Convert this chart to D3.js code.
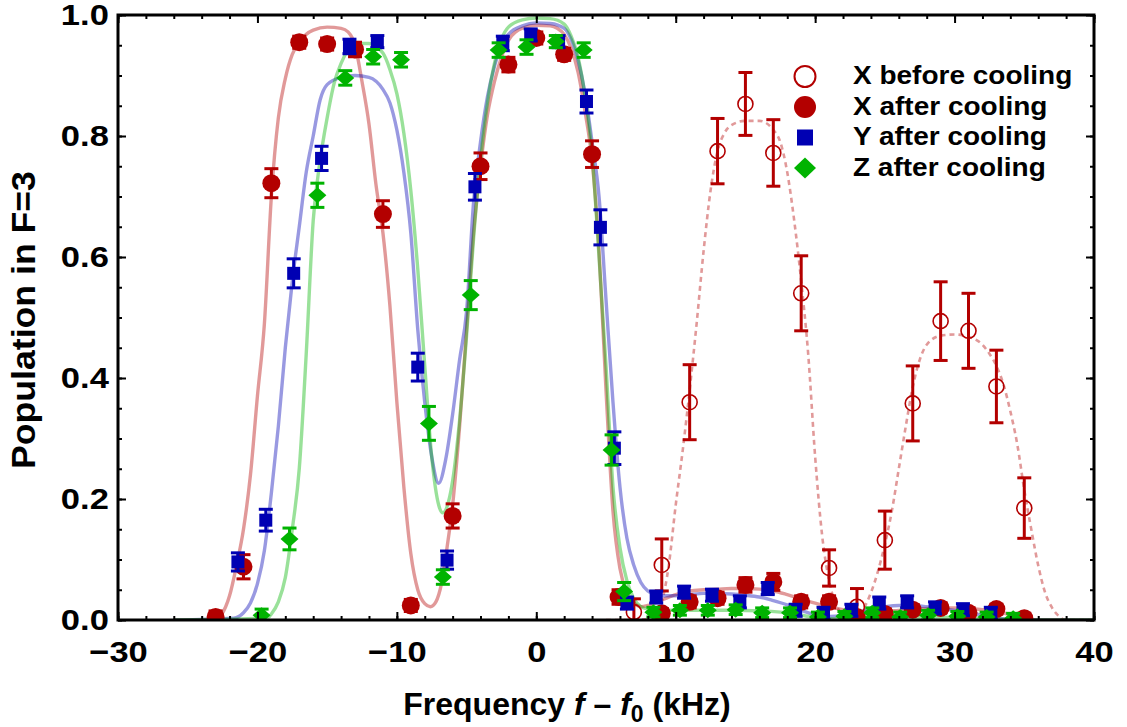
<!DOCTYPE html>
<html lang="en">
<head>
<meta charset="UTF-8">
<script src="https://cdn.jsdelivr.net/npm/d3@7"></script>
<title>Population in F=3</title>
<style>
  body { margin: 0; background: #fff; }
  text { font-family: "Liberation Sans", Arial, sans-serif; font-weight: bold; }
</style>
</head>
<body>
<svg id="chart" width="1127" height="727"></svg>
<script>
// ---- measured points ----
var beforeX   = [7, 9, 11, 13, 15, 17, 19, 21, 23, 25, 27, 29, 31, 33, 35];
var beforeY   = [0.013, 0.091, 0.36, 0.775, 0.853, 0.772, 0.54, 0.086, 0.022, 0.132, 0.358, 0.494, 0.478, 0.386, 0.185];
var beforeErr = [0.022, 0.043, 0.062, 0.054, 0.052, 0.055, 0.062, 0.03, 0.03, 0.048, 0.062, 0.065, 0.062, 0.06, 0.05];

var xAfterX   = [-23, -21, -19, -17, -15, -13, -11, -9, -6, -4, -2, 0, 2, 4, 5.9, 9, 11, 13, 15, 17, 19, 21, 23, 25, 27, 29, 31, 33, 35];
var xAfterY   = [0.005, 0.088, 0.722, 0.955, 0.952, 0.943, 0.671, 0.024, 0.172, 0.75, 0.918, 0.962, 0.935, 0.77, 0.038, 0.011, 0.03, 0.036, 0.058, 0.063, 0.03, 0.03, 0.005, 0.01, 0.017, 0.02, 0.012, 0.018, 0.003];
var xAfterErr = [0.01, 0.02, 0.024, 0.01, 0.01, 0.012, 0.022, 0.01, 0.02, 0.022, 0.012, 0.01, 0.01, 0.022, 0.012, 0.008, 0.01, 0.01, 0.012, 0.014, 0.01, 0.01, 0.008, 0.008, 0.008, 0.008, 0.008, 0.008, 0.008];

var yAfterX   = [-21.4, -19.4, -17.4, -15.4, -13.4, -11.4, -8.5, -6.4, -4.4, -2.4, -0.4, 1.6, 3.6, 4.6, 5.6, 6.5, 8.6, 10.6, 12.6, 14.6, 16.6, 18.6, 20.6, 22.6, 24.6, 26.6, 28.6, 30.6, 32.6];
var yAfterY   = [0.096, 0.165, 0.573, 0.763, 0.948, 0.956, 0.418, 0.099, 0.716, 0.953, 0.967, 0.956, 0.857, 0.649, 0.284, 0.028, 0.038, 0.046, 0.041, 0.03, 0.052, 0.016, 0.011, 0.016, 0.028, 0.03, 0.02, 0.017, 0.011];
var yAfterErr = [0.015, 0.018, 0.024, 0.02, 0.012, 0.01, 0.023, 0.015, 0.022, 0.012, 0.01, 0.01, 0.019, 0.029, 0.027, 0.01, 0.01, 0.01, 0.01, 0.01, 0.01, 0.01, 0.01, 0.01, 0.01, 0.01, 0.01, 0.01, 0.01];

var zAfterX   = [-19.7, -17.7, -15.7, -13.7, -11.7, -9.7, -7.7, -6.7, -4.7, -2.7, -0.7, 1.4, 3.4, 5.4, 6.3, 8.4, 10.3, 12.3, 14.3, 16.2, 18.2, 20.2, 22.1, 24.1, 26.1, 28.1, 30.2, 32.3, 34.2];
var zAfterY   = [0.008, 0.134, 0.702, 0.896, 0.931, 0.926, 0.325, 0.071, 0.537, 0.942, 0.947, 0.956, 0.942, 0.281, 0.047, 0.013, 0.016, 0.016, 0.017, 0.012, 0.012, 0.005, 0.006, 0.012, 0.005, 0.008, 0.006, 0.005, 0.003];
var zAfterErr = [0.01, 0.018, 0.02, 0.012, 0.012, 0.012, 0.028, 0.012, 0.024, 0.012, 0.012, 0.01, 0.012, 0.025, 0.015, 0.008, 0.008, 0.008, 0.008, 0.008, 0.008, 0.008, 0.008, 0.008, 0.008, 0.008, 0.008, 0.008, 0.008];

// ---- fitted curves ----
var fitBeforeX = [5, 7, 8, 8.5, 9, 9.5, 10, 10.5, 11, 11.5, 12, 12.5, 13, 13.5, 14, 15, 16, 17, 17.5, 18, 18.5, 19, 19.5, 20, 20.5, 21, 21.5, 22, 22.5, 23, 23.5, 24, 24.5, 25, 25.5, 26, 26.5, 27, 27.5, 28, 29, 30, 31, 32, 32.5, 33, 33.5, 34, 34.5, 35, 35.5, 36, 36.5, 37, 37.5, 38, 40];
var fitBeforeY = [0, 0, 0.002, 0.01, 0.03, 0.09, 0.19, 0.28, 0.38, 0.49, 0.61, 0.71, 0.775, 0.805, 0.818, 0.825, 0.825, 0.81, 0.79, 0.74, 0.66, 0.56, 0.44, 0.27, 0.14, 0.065, 0.025, 0.008, 0.002, 0.005, 0.02, 0.045, 0.08, 0.125, 0.18, 0.25, 0.32, 0.385, 0.43, 0.455, 0.47, 0.472, 0.468, 0.455, 0.44, 0.42, 0.39, 0.345, 0.29, 0.215, 0.15, 0.09, 0.045, 0.02, 0.006, 0, 0];

var fitXX = [-26, -23, -22.6, -22, -21.5, -21, -20.5, -20, -19.5, -19, -18.5, -18, -17.5, -17, -16.5, -16, -15, -14, -13.5, -13, -12.5, -12, -11.5, -11, -10.5, -10, -9.5, -9, -8.5, -8, -7.6, -7.2, -6.8, -6.4, -6, -5.5, -5, -4.5, -4, -3.5, -3, -2.5, -2, -1, 0, 1, 1.5, 2, 2.5, 3, 3.5, 4, 4.5, 5, 5.5, 6, 6.5, 7, 7.5, 8, 9, 10, 11, 12, 13, 14, 15, 16, 17, 18, 19, 20, 21, 22, 23, 24, 25, 26, 27, 28, 29, 30, 31, 32, 33, 34, 35, 36, 40];
var fitXY = [0, 0, 0.008, 0.04, 0.09, 0.15, 0.24, 0.37, 0.49, 0.70, 0.83, 0.895, 0.935, 0.955, 0.968, 0.975, 0.98, 0.978, 0.972, 0.95, 0.89, 0.82, 0.72, 0.64, 0.52, 0.36, 0.22, 0.11, 0.05, 0.027, 0.022, 0.03, 0.06, 0.12, 0.19, 0.32, 0.48, 0.64, 0.75, 0.835, 0.89, 0.93, 0.958, 0.978, 0.983, 0.982, 0.978, 0.968, 0.945, 0.905, 0.84, 0.76, 0.61, 0.38, 0.18, 0.085, 0.045, 0.028, 0.022, 0.024, 0.033, 0.042, 0.048, 0.05, 0.051, 0.052, 0.052, 0.051, 0.048, 0.042, 0.035, 0.028, 0.022, 0.017, 0.014, 0.013, 0.014, 0.016, 0.018, 0.019, 0.02, 0.02, 0.019, 0.017, 0.014, 0.009, 0.004, 0, 0];

var fitYX = [-26, -21.7, -21, -20.5, -20, -19.5, -19, -18.5, -18, -17.5, -17, -16.5, -16, -15.5, -15, -14, -13, -12, -11, -10.5, -10, -9.5, -9, -8.5, -8, -7.5, -7, -6.5, -6, -5.5, -5, -4.5, -4, -3.5, -3, -2.5, -2, -1, 0, 1, 2, 2.5, 3, 3.5, 4, 4.5, 5, 5.5, 6, 6.5, 7, 7.5, 8, 8.5, 9, 10, 11, 12, 13, 14, 15, 16, 17, 18, 19, 20, 21, 22, 23, 24, 25, 26, 27, 28, 29, 30, 31, 32, 33, 34, 35, 40];
var fitYY = [0, 0.003, 0.012, 0.028, 0.06, 0.115, 0.21, 0.32, 0.45, 0.56, 0.65, 0.74, 0.80, 0.86, 0.885, 0.897, 0.9, 0.897, 0.877, 0.855, 0.81, 0.74, 0.64, 0.48, 0.36, 0.27, 0.226, 0.265, 0.34, 0.43, 0.51, 0.69, 0.79, 0.865, 0.915, 0.95, 0.968, 0.982, 0.987, 0.986, 0.978, 0.96, 0.925, 0.87, 0.79, 0.70, 0.53, 0.36, 0.22, 0.135, 0.09, 0.062, 0.048, 0.042, 0.04, 0.04, 0.042, 0.044, 0.044, 0.043, 0.041, 0.038, 0.032, 0.025, 0.016, 0.009, 0.006, 0.008, 0.013, 0.018, 0.022, 0.024, 0.024, 0.022, 0.019, 0.016, 0.012, 0.008, 0.004, 0.001, 0, 0];

var fitZX = [-26, -19.3, -19, -18.5, -18, -17.5, -17, -16.5, -16, -15.5, -15, -14.5, -14, -13.3, -12.5, -12, -11, -10.5, -10, -9.5, -9, -8.5, -8, -7.5, -7, -6.7, -6.3, -6, -5.5, -5, -4.5, -4, -3.5, -3, -2.5, -2, -1, 0, 1, 2, 2.5, 3, 3.5, 4, 4.5, 5, 5.5, 6, 6.5, 7, 7.5, 8, 9, 10, 12, 14, 16, 18, 19, 20, 21, 24, 28, 32, 35, 40];
var fitZY = [0, 0.003, 0.01, 0.03, 0.07, 0.15, 0.25, 0.44, 0.66, 0.76, 0.83, 0.887, 0.92, 0.947, 0.953, 0.953, 0.937, 0.91, 0.87, 0.805, 0.71, 0.58, 0.42, 0.27, 0.19, 0.177, 0.195, 0.23, 0.33, 0.47, 0.63, 0.76, 0.855, 0.92, 0.96, 0.98, 0.992, 0.995, 0.994, 0.985, 0.965, 0.93, 0.865, 0.77, 0.60, 0.42, 0.22, 0.12, 0.065, 0.035, 0.022, 0.018, 0.016, 0.016, 0.016, 0.016, 0.015, 0.012, 0.008, 0.004, 0.002, 0.004, 0.005, 0.003, 0, 0];

var xTicks = [-30, -20, -10, 0, 10, 20, 30, 40];
var yTicks = [0, 0.2, 0.4, 0.6, 0.8, 1.0];
var legendLabels = ["X before cooling", "X after cooling", "Y after cooling", "Z after cooling"];

// ---- layout ----
var red = "rgb(179,0,0)", blue = "rgb(0,0,179)", green = "rgb(0,179,0)";
var pLeft = 118, pRight = 1094, pTop = 15, pBottom = 620;

var x = d3.scaleLinear().domain([-30, 40]).range([pLeft, pRight]);
var y = d3.scaleLinear().domain([0, 1]).range([pBottom, pTop]);

var svg = d3.select("#chart");

svg.append("defs").append("clipPath").attr("id", "clip")
  .append("rect").attr("x", pLeft).attr("y", pTop)
  .attr("width", pRight - pLeft).attr("height", pBottom - pTop);

function zip(xs, ys, es) {
  return xs.map(function (v, i) { return { x: v, y: ys[i], e: es ? es[i] : 0 }; });
}

var line = d3.line()
  .x(function (d) { return x(d.x); })
  .y(function (d) { return y(d.y); })
  .curve(d3.curveMonotoneX);

var plot = svg.append("g").attr("clip-path", "url(#clip)");

// fit curves
plot.append("path").datum(zip(fitBeforeX, fitBeforeY))
  .attr("d", line).attr("fill", "none").attr("stroke", red)
  .attr("stroke-opacity", 0.4).attr("stroke-width", 2.6).attr("stroke-dasharray", "5,4");

[[fitXX, fitXY, red], [fitYX, fitYY, blue], [fitZX, fitZY, green]].forEach(function (c) {
  plot.append("path").datum(zip(c[0], c[1]))
    .attr("d", line).attr("fill", "none").attr("stroke", c[2])
    .attr("stroke-opacity", 0.4).attr("stroke-width", 3.4);
});

// error bars
function errorBars(data, color, cap) {
  var g = plot.append("g").attr("stroke", color).attr("stroke-width", 3).attr("fill", "none");
  data.forEach(function (d) {
    var lo = y(d.y - d.e), hi = y(d.y + d.e), cx = x(d.x);
    g.append("line").attr("x1", cx).attr("x2", cx).attr("y1", lo).attr("y2", hi);
    g.append("line").attr("x1", cx - cap).attr("x2", cx + cap).attr("y1", lo).attr("y2", lo);
    g.append("line").attr("x1", cx - cap).attr("x2", cx + cap).attr("y1", hi).attr("y2", hi);
  });
}

function diamond(hw, hh) {
  return "M0," + (-hh) + "L" + hw + ",0L0," + hh + "L" + (-hw) + ",0Z";
}

// X before cooling
var dBefore = zip(beforeX, beforeY, beforeErr);
errorBars(dBefore, red, 7);
plot.append("g").selectAll("circle").data(dBefore).join("circle")
  .attr("cx", function (d) { return x(d.x); }).attr("cy", function (d) { return y(d.y); })
  .attr("r", 7.5).attr("fill", "none").attr("stroke", red).attr("stroke-width", 1.6);

// X after cooling
var dX = zip(xAfterX, xAfterY, xAfterErr);
errorBars(dX, red, 7);
plot.append("g").selectAll("circle").data(dX).join("circle")
  .attr("cx", function (d) { return x(d.x); }).attr("cy", function (d) { return y(d.y); })
  .attr("r", 9).attr("fill", red);

// Y after cooling
var dY = zip(yAfterX, yAfterY, yAfterErr);
errorBars(dY, blue, 7);
plot.append("g").selectAll("rect").data(dY).join("rect")
  .attr("x", function (d) { return x(d.x) - 6.5; }).attr("y", function (d) { return y(d.y) - 6.5; })
  .attr("width", 13).attr("height", 13).attr("fill", blue);

// Z after cooling
var dZ = zip(zAfterX, zAfterY, zAfterErr);
errorBars(dZ, green, 7);
plot.append("g").selectAll("path").data(dZ).join("path")
  .attr("transform", function (d) { return "translate(" + x(d.x) + "," + y(d.y) + ")"; })
  .attr("d", diamond(9, 8)).attr("fill", green);

// ---- axes ----
function styleAxis(g) {
  g.select(".domain").remove();
  g.selectAll("line").attr("stroke", "#000").attr("stroke-width", 2);
}
var xMinor = d3.range(-30, 41, 2), yMinor = d3.range(0, 1.001, 0.05);

svg.append("g").attr("transform", "translate(0," + pBottom + ")")
  .call(d3.axisBottom(x).tickValues(xMinor).tickSize(-4).tickFormat("")).call(styleAxis);
svg.append("g").attr("transform", "translate(0," + pTop + ")")
  .call(d3.axisTop(x).tickValues(xMinor).tickSize(-4).tickFormat("")).call(styleAxis);
svg.append("g").attr("transform", "translate(" + pLeft + ",0)")
  .call(d3.axisLeft(y).tickValues(yMinor).tickSize(-4).tickFormat("")).call(styleAxis);
svg.append("g").attr("transform", "translate(" + pRight + ",0)")
  .call(d3.axisRight(y).tickValues(yMinor).tickSize(-4).tickFormat("")).call(styleAxis);

var xAxis = svg.append("g").attr("transform", "translate(0," + pBottom + ")")
  .call(d3.axisBottom(x).tickValues(xTicks).tickSize(-8).tickPadding(21).tickFormat(d3.format("d")))
  .call(styleAxis);
svg.append("g").attr("transform", "translate(0," + pTop + ")")
  .call(d3.axisTop(x).tickValues(xTicks).tickSize(-8).tickFormat("")).call(styleAxis);
var yAxis = svg.append("g").attr("transform", "translate(" + pLeft + ",0)")
  .call(d3.axisLeft(y).tickValues(yTicks).tickSize(-8).tickPadding(8).tickFormat(d3.format(".1f")))
  .call(styleAxis);
svg.append("g").attr("transform", "translate(" + pRight + ",0)")
  .call(d3.axisRight(y).tickValues(yTicks).tickSize(-8).tickFormat("")).call(styleAxis);

[xAxis, yAxis].forEach(function (a) {
  a.selectAll("text").attr("fill", "#000")
    .style("font-family", "'Liberation Sans', Arial, sans-serif")
    .style("font-weight", "bold").style("font-size", "30px")
    .attr("transform", "scale(1.15,1)");
});

svg.append("rect").attr("x", pLeft).attr("y", pTop)
  .attr("width", pRight - pLeft).attr("height", pBottom - pTop)
  .attr("fill", "none").attr("stroke", "#000").attr("stroke-width", 3);

// axis titles
var xt = svg.append("text").attr("x", 567).attr("y", 715)
  .attr("text-anchor", "middle").style("font-size", "32px");
xt.append("tspan").text("Frequency ");
xt.append("tspan").style("font-style", "italic").text("f");
xt.append("tspan").text(" \u2013 ");
xt.append("tspan").style("font-style", "italic").text("f");
xt.append("tspan").attr("dy", 7).style("font-size", "23px").text("0");
xt.append("tspan").attr("dy", -7).text(" (kHz)");

svg.append("text").attr("transform", "translate(35,320) rotate(-90) scale(1.08,1)")
  .attr("text-anchor", "middle").style("font-size", "33px").text("Population in F=3");

// ---- legend ----
var leg = svg.append("g");
legendLabels.forEach(function (lab, i) {
  var by = 84 + i * 30.5, cy = by - 7.5, cx = 805;
  if (i === 0) {
    leg.append("circle").attr("cx", cx).attr("cy", cy).attr("r", 10.5)
      .attr("fill", "none").attr("stroke", red).attr("stroke-width", 2);
  } else if (i === 1) {
    leg.append("circle").attr("cx", cx).attr("cy", cy).attr("r", 11).attr("fill", red);
  } else if (i === 2) {
    leg.append("rect").attr("x", cx - 8).attr("y", cy - 8).attr("width", 16).attr("height", 16).attr("fill", blue);
  } else {
    leg.append("path").attr("transform", "translate(" + cx + "," + cy + ")")
      .attr("d", diamond(11, 10.5)).attr("fill", green);
  }
  leg.append("text").attr("transform", "translate(853," + by + ") scale(1.12,1)")
    .style("font-size", "25px").text(lab);
});
</script>
</body>
</html>
